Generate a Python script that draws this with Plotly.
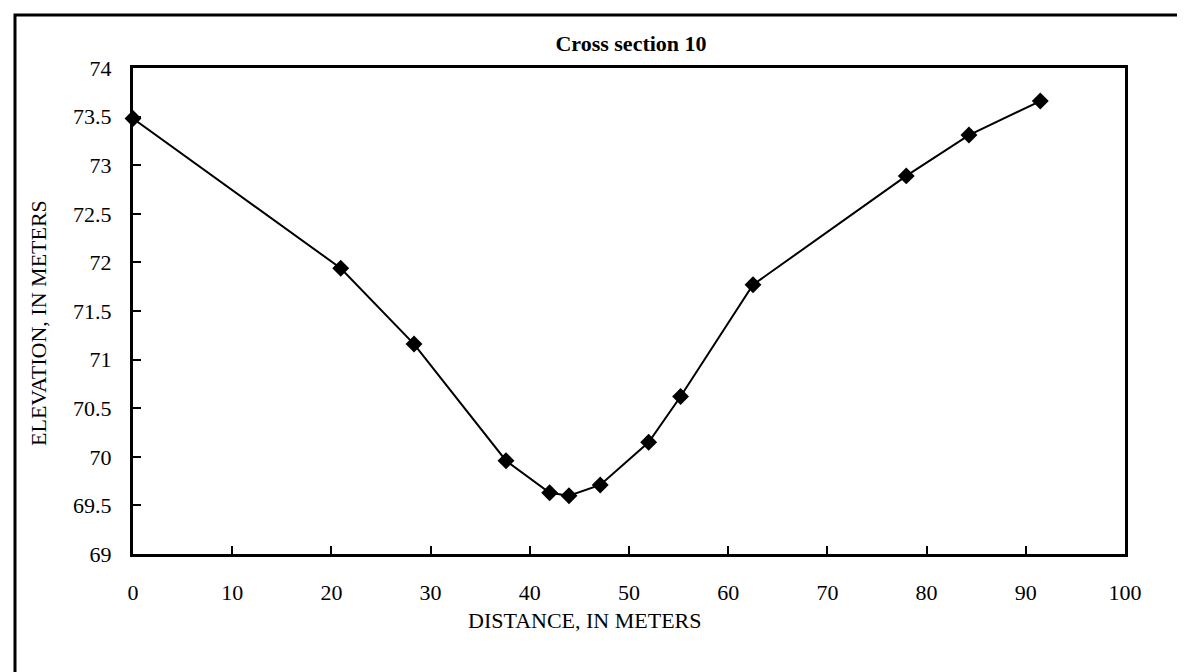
import plotly.graph_objects as go

distance = [0, 20.94, 28.33, 37.6, 42.0, 43.95, 47.1, 51.98, 55.2, 62.5, 77.95, 84.27, 91.46]
elevation = [73.48, 71.94, 71.16, 69.96, 69.63, 69.60, 69.71, 70.15, 70.62, 71.77, 72.89, 73.31, 73.66]

x_ticks = [0, 10, 20, 30, 40, 50, 60, 70, 80, 90, 100]
y_ticks = [69, 69.5, 70, 70.5, 71, 71.5, 72, 72.5, 73, 73.5, 74]

title_text = "Cross section 10"
x_title = "DISTANCE, IN METERS"
y_title = "ELEVATION, IN METERS"

FONT = "Liberation Serif, Times New Roman, serif"

W, H = 1185, 672
L, R, T, B = 125, 1117, 60, 546

fig = go.Figure()
fig.add_trace(go.Scatter(
    x=distance, y=elevation, mode="lines+markers",
    line=dict(color="black", width=2),
    marker=dict(symbol="diamond", size=13, color="black"),
    showlegend=False, cliponaxis=False,
))

fig.update_layout(
    width=W, height=H,
    margin=dict(l=L, r=W - R, t=T, b=H - B, pad=0),
    paper_bgcolor="white", plot_bgcolor="white",
    font=dict(family=FONT, color="black", size=22),
    title=dict(text="<b>" + title_text + "</b>", x=(623 - L) / (R - L), xref="paper",
               xanchor="center", y=1 - 35 / H, yref="container", yanchor="middle",
               font=dict(family=FONT, size=22, color="black")),
)

fig.update_xaxes(
    range=[0, 100], tickvals=x_ticks, ticktext=[str(v) for v in x_ticks],
    showgrid=False, zeroline=False, showline=True, linecolor="black", linewidth=3,
    mirror=True, ticks="inside", ticklen=8, tickwidth=2, tickcolor="black",
    ticklabelstandoff=17, tickfont=dict(family=FONT, size=22, color="black"),
)
fig.update_yaxes(
    range=[69, 74], tickvals=y_ticks, ticktext=[("%g" % v) for v in y_ticks],
    showgrid=False, zeroline=False, showline=True, linecolor="black", linewidth=3,
    mirror=True, ticks="inside", ticklen=8, tickwidth=2, tickcolor="black",
    ticklabelstandoff=14, tickfont=dict(family=FONT, size=22, color="black"),
)

pw, ph = R - L, B - T
fig.add_annotation(text=x_title, xref="paper", yref="paper",
                   x=(577 - L) / pw, y=(B - 612) / ph, xanchor="center", yanchor="middle",
                   showarrow=False, font=dict(family=FONT, size=22, color="black"))
fig.add_annotation(text=y_title, xref="paper", yref="paper", textangle=-90,
                   x=(30 - L) / pw, y=(B - 315) / ph, xanchor="center", yanchor="middle",
                   showarrow=False, font=dict(family=FONT, size=22, color="black"))

# outer chart border (right and bottom edges lie outside the image)
fig.add_shape(type="rect", xref="paper", yref="paper",
              x0=(7 - L) / pw, x1=(1195 - L) / pw, y0=(B - 690) / ph, y1=(B - 7) / ph,
              line=dict(color="black", width=3), fillcolor="rgba(0,0,0,0)", layer="below")

fig.write_html("out.html")
